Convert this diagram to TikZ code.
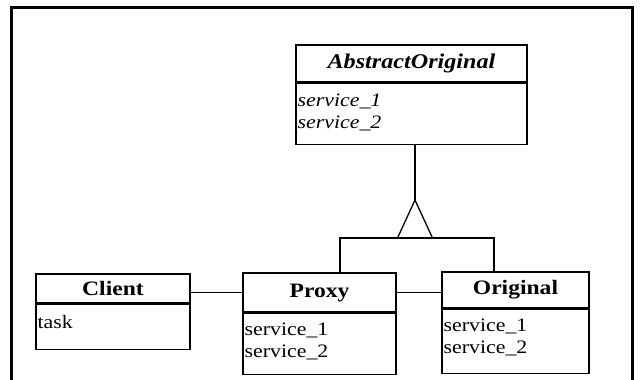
\documentclass[tikz,border=0pt]{standalone}
\usepackage{fontspec}
\setmainfont{Liberation Serif}[FakeStretch=1.15]
\usepackage{tikz}
\usetikzlibrary{calc}

\begin{document}
\begin{tikzpicture}[x=1pt, y=-1pt,
  classe/.style={draw, line width=1.1pt, inner sep=0pt, font=\fontsize{20.5}{22}\selectfont\bfseries},
  attrs/.style={draw, line width=1.1pt, inner sep=0pt},
  attxt/.style={anchor=north west, inner sep=2pt, yshift=-8pt, align=left, font=\fontsize{19}{22.5}\selectfont},
  lien/.style={line width=1.3pt}]
\useasboundingbox (0,0) rectangle (641,380);
% cadre
\draw[line width=3pt] (11,380) -- (11,7) -- (632,7) -- (632,380);
% classes
\node[classe, minimum width=231pt, minimum height=37pt, font=\fontsize{21}{22}\selectfont\bfseries\itshape] (abs) at (411.5,63.5) {AbstractOriginal};
\node[attrs, minimum width=231pt, minimum height=61pt, anchor=north] (abs-att) at (abs.south) {};
\node[attxt, yshift=-1pt] (abs-txt) at (abs-att.north west) {\itshape service\_1\\\itshape service\_2};
\node[classe, minimum width=154pt, minimum height=29pt] (client) at (113,288.5) {Client};
\node[attrs, minimum width=154pt, minimum height=45pt, anchor=north] (client-att) at (client.south) {};
\node[attxt, yshift=-2pt] (client-txt) at (client-att.north west) {task};
\node[classe, minimum width=153pt, minimum height=39pt] (proxy) at (319.5,292.5) {Proxy};
\node[attrs, minimum width=153pt, minimum height=61pt, anchor=north] (proxy-att) at (proxy.south) {};
\node[attxt] (proxy-txt) at (proxy-att.north west) {service\_1\\service\_2};
\node[classe, minimum width=147pt, minimum height=36pt] (orig) at (515.5,290) {Original};
\node[attrs, minimum width=147pt, minimum height=64pt, anchor=north] (orig-att) at (orig.south) {};
\node[attxt] (orig-txt) at (orig-att.north west) {service\_1\\service\_2};
% heritage
\coordinate (pointe) at (415,200);
\coordinate (bg) at (397.5,238); \coordinate (bd) at (432.5,238);
\coordinate (barg) at (340,238); \coordinate (bard) at (494,238);
\draw[lien] (pointe |- abs-att.south) -- (pointe);
\draw[lien] (bg) -- (pointe) -- (bd);
\draw[lien] (barg |- proxy.north) -- (barg) -- (bard) -- (bard |- orig.north);
% associations
\draw[lien] (proxy.west) -- (proxy.west -| client.east);
\draw[lien] (proxy.east) -- (proxy.east -| orig.west);
\end{tikzpicture}
\end{document}
